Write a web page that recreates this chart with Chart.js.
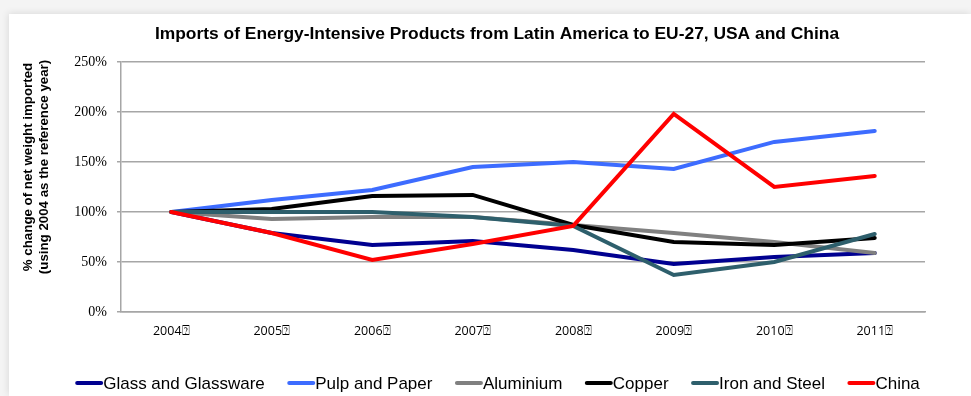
<!DOCTYPE html>
<html>
<head>
<meta charset="utf-8">
<script src="https://cdn.jsdelivr.net/npm/chart.js@4.4.0/dist/chart.umd.min.js"></script>
<style>
	html, body { margin: 0; padding: 0; background: #f4f4f4; }
	#card { position: absolute; left: 9px; top: 14px; width: 962px; height: 382px; background: #fff; box-shadow: -1px -1px 7px rgba(0,0,0,0.10); }
	#wrap { position: absolute; left: 0; top: 0; width: 971px; height: 396px; }
</style>
</head>
<body>
<div id="card"></div>
<div id="wrap"><canvas id="myChart" width="971" height="396"></canvas></div>
<script>
// anni (il simbolo finale era nel file originale)
var years = ["2004\u2370", "2005\u2370", "2006\u2370", "2007\u2370", "2008\u2370", "2009\u2370", "2010\u2370", "2011\u2370"];
var yTicks = [0, 50, 100, 150, 200, 250];

// variazione % del peso netto importato (2004 = 100%)
var glass = [100, 79, 67, 71, 62, 48, 55, 59];
var pulp = [100, 112, 122, 145, 150, 143, 170, 181];
var aluminium = [100, 93, 95, 95, 87, 79, 70, 59];
var copper = [100, 103, 116, 117, 87, 70, 67, 74];
var iron = [100, 100, 100, 95, 86, 37, 50, 78];
var china = [100, 79, 52, 68, 86, 198, 125, 136];

var seriesNames = ["Glass and Glassware", "Pulp and Paper", "Aluminium", "Copper", "Iron and Steel", "China"];
var seriesData = [glass, pulp, aluminium, copper, iron, china];
var seriesColors = ["#000090", "#3d6cff", "#808080", "#000000", "#2e5f6c", "#ff0000"];

var datasets = seriesNames.map((name, i) => ({
	label: name,
	data: seriesData[i],
	borderColor: seriesColors[i],
	backgroundColor: seriesColors[i],
	borderWidth: 4,
	borderCapStyle: 'round',
	borderJoinStyle: 'miter',
	pointRadius: 0,
	tension: 0,
	order: seriesNames.length - i // l'ultima serie sta sopra
}));

// titolo asse y su due righe, disegnato a mano
const yTitle = {
	id: 'yTitle',
	afterDraw(chart) {
		const ctx = chart.ctx;
		ctx.save();
		ctx.translate(36, 167);
		ctx.rotate(-Math.PI / 2);
		ctx.fillStyle = '#000';
		ctx.font = 'bold 13.3px "Liberation Sans", Arial, sans-serif';
		ctx.textAlign = 'center';
		ctx.textBaseline = 'middle';
		ctx.fillText('% change of net weight imported', 0, -8);
		ctx.fillText('(using 2004 as the reference year)', 0, 8);
		ctx.restore();
	}
};

// legenda in basso: trattino attaccato al testo, tutto su una riga
const bottomLegend = {
	id: 'bottomLegend',
	afterDraw(chart) {
		const ctx = chart.ctx;
		const lineW = 28, gap = 22.5, y = 383, centerX = 497.5;
		ctx.save();
		ctx.font = '17px "Liberation Sans", Arial, sans-serif';
		ctx.textBaseline = 'middle';
		ctx.textAlign = 'left';
		let widths = chart.data.datasets.map(ds => lineW + ctx.measureText(ds.label).width);
		let total = widths.reduce((a, b) => a + b, 0) + gap * (widths.length - 1);
		let x = centerX - total / 2;
		chart.data.datasets.forEach((ds, i) => {
			ctx.strokeStyle = ds.borderColor;
			ctx.lineWidth = 4;
			ctx.lineCap = 'round';
			ctx.beginPath();
			ctx.moveTo(x + 2, y);
			ctx.lineTo(x + lineW - 2, y);
			ctx.stroke();
			ctx.fillStyle = '#000';
			ctx.fillText(ds.label, x + lineW, y + 1);
			x += widths[i] + gap;
		});
		ctx.restore();
	}
};

const ctx = document.getElementById('myChart').getContext('2d');
var myChart = new Chart(ctx, {
	type: 'line',
	data: {
		labels: years,
		datasets: datasets
	},
	options: {
		responsive: false,
		animation: false,
		layout: {
			padding: { left: 69, right: 46, top: 0, bottom: 30 }
		},
		scales: {
			x: {
				offset: true,
				grid: { display: false, drawTicks: false },
				border: { display: true, color: '#a6a6a6', width: 1.5 },
				ticks: {
					color: '#000',
					font: { family: '"Open Sans", sans-serif', size: 12.5 },
					padding: 12,
					maxRotation: 0,
					autoSkip: false
				},
				afterFit: (scale) => { scale.height = 54; }
			},
			y: {
				min: 0,
				max: 250,
				afterBuildTicks: (scale) => { scale.ticks = yTicks.map(v => ({ value: v })); },
				grid: { color: '#a6a6a6', lineWidth: 1.5, tickLength: 4 },
				border: { display: true, color: '#a6a6a6', width: 1.5 },
				ticks: {
					color: '#000',
					font: { family: '"Liberation Serif", "Times New Roman", serif', size: 14 },
					padding: 10,
					callback: (v) => v + '%'
				},
				afterFit: (scale) => { scale.width = 52; }
			}
		},
		plugins: {
			title: {
				display: true,
				text: 'Imports of Energy-Intensive Products from Latin America to EU-27, USA and China',
				color: '#000',
				font: { family: '"Liberation Sans", Arial, sans-serif', size: 17.4, weight: 'bold' },
				padding: { top: 24, bottom: 17 }
			},
			legend: { display: false },
			tooltip: { enabled: false }
		}
	},
	plugins: [yTitle, bottomLegend]
});
</script>
</body>
</html>
